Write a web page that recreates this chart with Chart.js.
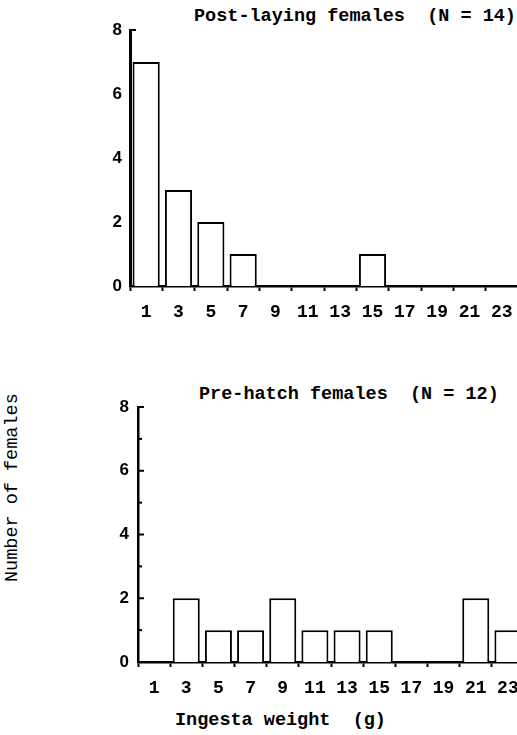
<!DOCTYPE html>
<html>
<head>
<meta charset="utf-8">
<title>Ingesta weight of females</title>
<script src="https://cdn.jsdelivr.net/npm/chart.js@4.4.0/dist/chart.umd.min.js"></script>
<style>
  html, body { margin: 0; padding: 0; background: #fff; }
  #wrap { position: relative; width: 517px; height: 735px; overflow: hidden; }
  canvas { position: absolute; left: 0; }
  .txt {
    position: absolute;
    font-family: "Liberation Mono", "DejaVu Sans Mono", monospace;
    font-weight: bold;
    font-size: 18.5px;
    line-height: 20px;
    color: #000;
    white-space: pre;
  }
  #y-title { font-weight: normal; transform-origin: left top; transform: rotate(-90deg); }
</style>
</head>
<body>
<div id="wrap">
  <div class="txt" id="title-post" style="left:194px; top:7px;">Post-laying females  (N = 14)</div>
  <div class="txt" id="title-pre" style="left:199px; top:385px;">Pre-hatch females  (N = 12)</div>
  <div class="txt" id="y-title" style="left:3px; top:582px;">Number of females</div>
  <div class="txt" id="x-title" style="left:175px; top:711px;">Ingesta weight  (g)</div>
  <canvas id="postChart" width="540" height="340" style="top:0px;"></canvas>
  <canvas id="preChart" width="540" height="370" style="top:370px;"></canvas>
</div>

<script>
// Ingesta weight bins (g), labelled by their middle value
const weightBins = ["1", "3", "5", "7", "9", "11", "13", "15", "17", "19", "21", "23"];

// Number of females in each bin
const postLayingCounts = [7, 3, 2, 1, 0, 0, 0, 1, 0, 0, 0, 0];
const preHatchCounts = [0, 2, 1, 1, 2, 1, 1, 1, 0, 0, 2, 1];

// y axis
const yMin = 0;
const yMax = 8;
const yStep = 2;
const postInnerTicks = [8];
const preInnerTicks = [1, 2, 3, 4, 5, 6, 7, 8];

// short tick marks drawn on the inside of the y axis
const innerTicks = {
  id: "innerTicks",
  afterDraw(chart, args, opts) {
    const y = chart.scales.y;
    const area = chart.chartArea;
    const ctx = chart.ctx;
    ctx.save();
    ctx.strokeStyle = "#000";
    ctx.lineWidth = 2;
    opts.values.forEach(v => {
      const py = y.getPixelForValue(v);
      const len = v % 2 === 0 ? 6 : 4;
      ctx.beginPath();
      ctx.moveTo(area.left, py);
      ctx.lineTo(area.left + len, py);
      ctx.stroke();
    });
    ctx.restore();
  }
};

function makeChart(id, counts, opts) {
  const ctx = document.getElementById(id).getContext("2d");
  return new Chart(ctx, {
    type: "bar",
    data: {
      labels: weightBins,
      datasets: [{
        data: counts,
        backgroundColor: "#fff",
        borderColor: "#000",
        // empty bins have no box at all
        borderWidth: c => (c.raw === 0 ? 0 : 2),
        categoryPercentage: 1,
        barPercentage: 0.84
      }]
    },
    options: {
      responsive: false,
      animation: false,
      layout: {
        padding: { top: opts.padTop, right: opts.padRight, left: 0, bottom: 0 }
      },
      plugins: {
        legend: { display: false },
        tooltip: { enabled: false },
        innerTicks: { values: opts.innerTicks }
      },
      scales: {
        x: {
          z: 1,
          offset: true,
          grid: {
            display: true,
            offset: true,
            drawOnChartArea: false,
            drawTicks: true,
            tickLength: 5,
            tickWidth: 2,
            color: "#000"
          },
          border: { display: true, color: "#000", width: 2.5 },
          ticks: {
            color: "#000",
            padding: 11,
            maxRotation: 0,
            autoSkip: false,
            font: { family: "'Liberation Mono', monospace", weight: "bold", size: 18 }
          },
          afterFit(scale) { scale.height = opts.xHeight; }
        },
        y: {
          z: 1,
          min: yMin,
          max: yMax,
          grid: { display: false, drawTicks: false },
          border: { display: true, color: "#000", width: opts.yBorder },
          ticks: {
            stepSize: yStep,
            color: "#000",
            padding: opts.yPad,
            font: { family: "'Liberation Sans', Arial, sans-serif", weight: "bold", size: 17 }
          },
          afterFit(scale) { scale.width = opts.yWidth; }
        }
      }
    },
    plugins: [innerTicks]
  });
}

makeChart("postChart", postLayingCounts, {
  padTop: 30, padRight: 22, xHeight: 54, yWidth: 130, yBorder: 3, yPad: 8, innerTicks: postInnerTicks
});

makeChart("preChart", preHatchCounts, {
  padTop: 37, padRight: 16, xHeight: 78, yWidth: 138, yBorder: 2.5, yPad: 9, innerTicks: preInnerTicks
});
</script>
</body>
</html>
